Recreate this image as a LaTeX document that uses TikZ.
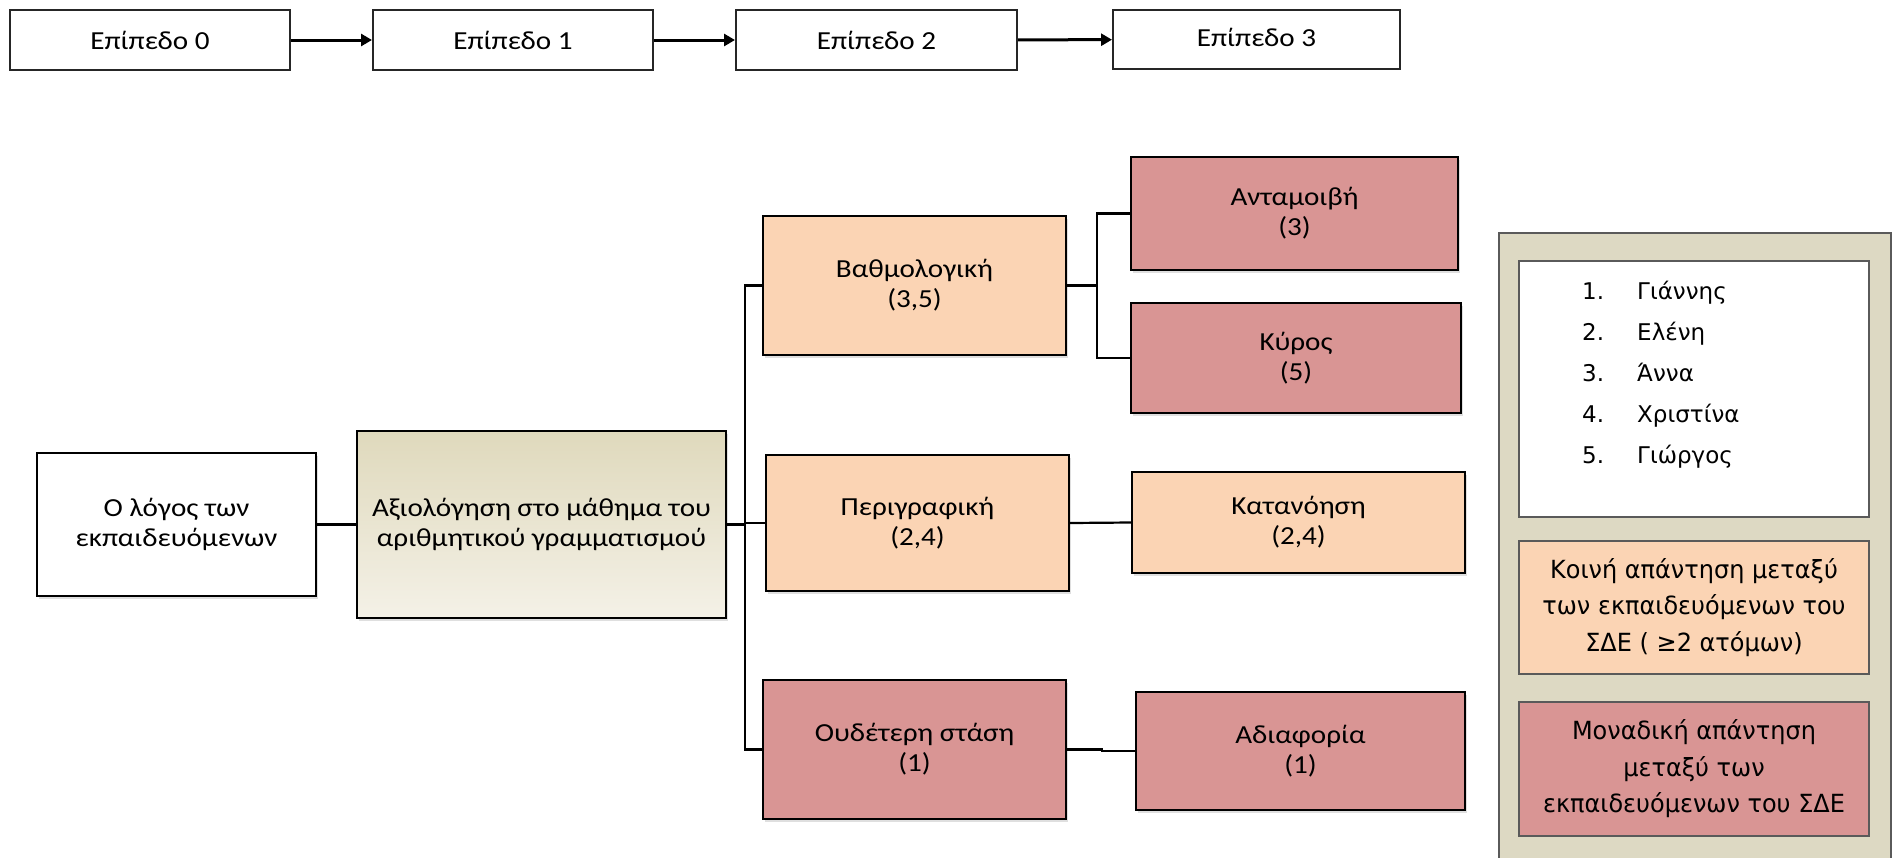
\documentclass[tikz,border=0pt]{standalone}
\usepackage{fontspec}
\setmainfont{Carlito}[FakeStretch=1.12]
\newfontfamily\legendfont{DejaVu Sans}[FakeStretch=0.96]
\newfontfamily\listfont{DejaVu Sans}
\usetikzlibrary{arrows.meta,shadows}

\definecolor{peach}{HTML}{FBD4B4}
\definecolor{rose}{HTML}{D99594}
\definecolor{tan}{HTML}{DDD9C3}
\definecolor{panelline}{HTML}{5A5A5A}
\definecolor{gradtop}{HTML}{DFD9BC}
\definecolor{gradbot}{HTML}{F4F1E7}

\begin{document}
\begin{tikzpicture}[x=1pt,y=-1pt,
  font=\fontsize{26}{30}\selectfont,
  base/.style={draw=black,line width=2.2pt,rectangle,inner sep=0pt,align=center,
    drop shadow={opacity=0.25,shadow xshift=2pt,shadow yshift=-3pt}},
  plainbox/.style={base,fill=white},
  peachbox/.style={base,fill=peach},
  rosebox/.style={base,fill=rose},
  levelbox/.style={draw=black!85,line width=2pt,fill=white,rectangle,inner sep=0pt,
    minimum width=280pt,minimum height=60pt},
  link/.style={draw=black,line width=2.2pt},
  levelarrow/.style={draw=black,line width=3pt,-{Triangle[length=11pt,width=12pt]}},
  legendtext/.style={font=\legendfont\fontsize{25}{36.5}\selectfont},
  listtext/.style={font=\listfont\fontsize{23}{36.5}\selectfont},
]
\useasboundingbox (0,0) rectangle (1893,857);

% level strip
\node[levelbox] (lvl0) at (150,40) {Επίπεδο 0};
\node[levelbox] (lvl1) at (513,40) {Επίπεδο 1};
\node[levelbox,minimum width=281pt] (lvl2) at (876.5,40) {Επίπεδο 2};
\node[levelbox,minimum width=287pt,minimum height=59pt] (lvl3) at (1256.5,39.5) {\raisebox{4pt}{Επίπεδο 3}};
\draw[levelarrow] (lvl0) -- (lvl1);
\draw[levelarrow] (lvl1) -- (lvl2);
\draw[levelarrow] (lvl2) -- (lvl3);

% tree
\node[plainbox,minimum width=279pt,minimum height=143pt] (logos) at (176.5,524.5)
  {Ο λόγος των\\εκπαιδευόμενων};
\node[base,top color=gradtop,bottom color=gradbot,minimum width=369pt,minimum height=187pt] (axiol)
  at (541.5,524.5) {Αξιολόγηση στο μάθημα του\\αριθμητικού γραμματισμού};

\node[peachbox,minimum width=303pt,minimum height=139pt] (vathm) at (914.5,285.5) {Βαθμολογική\\(3,5)};
\node[peachbox,minimum width=303pt,minimum height=136pt] (perig) at (917.5,523) {Περιγραφική\\(2,4)};
\node[rosebox,minimum width=303pt,minimum height=139pt] (oudet) at (914.5,749.5) {Ουδέτερη στάση\\(1)};

\node[rosebox,minimum width=327pt,minimum height=113pt] (antam) at (1294.5,213.5) {Ανταμοιβή\\(3)};
\node[rosebox,minimum width=330pt,minimum height=110pt] (kyros) at (1296,358) {Κύρος\\(5)};
\node[peachbox,minimum width=333pt,minimum height=101pt] (katan) at (1298.5,522.5) {Κατανόηση\\(2,4)};
\node[rosebox,minimum width=329pt,minimum height=118pt] (adiaf) at (1300.5,751) {Αδιαφορία\\(1)};

\coordinate (trunk) at (745,285.5);
\coordinate (fork) at (1097,285.5);

\draw[link] (logos.east) -- (axiol.west);
\draw[link] (vathm.west) -| (trunk) |- (oudet.west);
\draw[link] (axiol.east) -- (axiol.east -| trunk);
\draw[link] (perig.west) -- (perig.west -| trunk);
\draw[link] (vathm.east) -- (fork);
\draw[link] (antam.west) -| (fork) |- (kyros.west);
\draw[link] (perig.east) -- (katan.west);
\draw[link] (oudet.east) -- ++(35,0) |- (adiaf.west);

% legend panel
\fill[tan] (1499,233) rectangle (1891,870);
\draw[draw=panelline,line width=1.6pt] (1499,870) -- (1499,233) -- (1891,233) -- (1891,870);

\node[draw=panelline,line width=1.4pt,fill=white,rectangle,inner sep=0pt,
  minimum width=350pt,minimum height=256pt] (names) at (1694,389) {};
\foreach \n/\who [count=\i] in {1/Γιάννης,2/Ελένη,3/Άννα,4/Χριστίνα,5/Γιώργος}{
  \node[listtext,anchor=base west,inner sep=0pt] (num\i) at (1582,{291+41*(\i-1)+8}) {\n.};
  \node[listtext,anchor=base west,inner sep=0pt] (who\i) at (1637,{291+41*(\i-1)+8}) {\who};
}

\node[draw=panelline,line width=1.4pt,fill=peach,rectangle,inner sep=0pt,align=center,
  minimum width=350pt,minimum height=133pt,legendtext] (shared) at (1694,607.5)
  {Κοινή απάντηση μεταξύ\\των εκπαιδευόμενων του\\ΣΔΕ ( ≥2 ατόμων)};
\node[draw=panelline,line width=1.4pt,fill=rose,rectangle,inner sep=0pt,align=center,
  minimum width=350pt,minimum height=134pt,legendtext] (single) at (1694,769)
  {Μοναδική απάντηση\\μεταξύ των\\εκπαιδευόμενων του ΣΔΕ};
\end{tikzpicture}
\end{document}
